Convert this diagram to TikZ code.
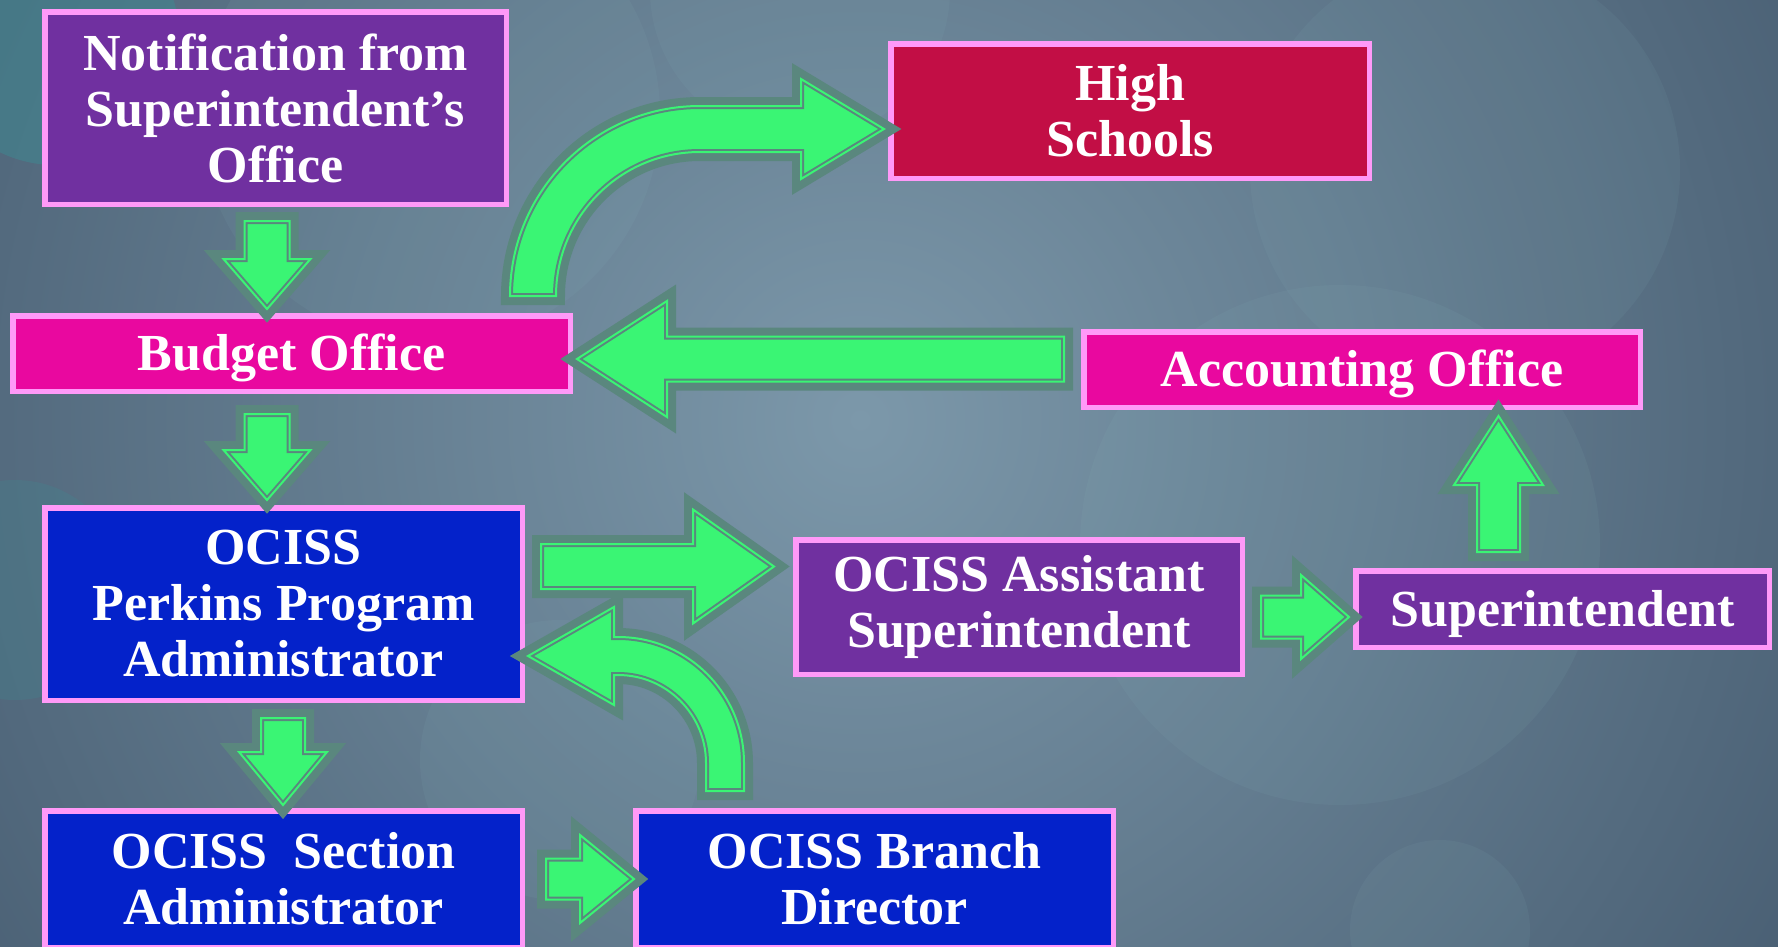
\documentclass[tikz,border=0pt]{standalone}
\usepackage{fontspec}
\setmainfont{Liberation Serif}
\usetikzlibrary{calc}

\definecolor{boxedge}{HTML}{FF99F8}
\definecolor{purplebox}{HTML}{7030A0}
\definecolor{crimsonbox}{HTML}{C20E45}
\definecolor{pinkbox}{HTML}{E9089F}
\definecolor{bluebox}{HTML}{0422CA}
\definecolor{arrowfill}{HTML}{3AF574}
\definecolor{arrowrim}{HTML}{5A877E}
\definecolor{bgmid}{HTML}{7C98AA}
\definecolor{bgdark}{HTML}{2A3C52}
\definecolor{bokehlight}{HTML}{8FBFC4}
\definecolor{bokehteal}{HTML}{3E8A92}

\tikzset{
  box/.style={draw=boxedge, line width=5.5pt, text=white, align=center, inner sep=0pt,
    font=\bfseries\fontsize{52}{56}\selectfont},
  oneline/.style={text height=44pt, text depth=10pt},
  bigarrow/.style={fill=arrowfill, draw=arrowrim, line width=2pt,
    double=arrowfill, double distance=2pt,
    preaction={draw=arrowrim, line width=18pt}},
  bokeh/.style={fill=#1, opacity=0.08},
}

% straight block arrow: tail, tip, half shaft, half head, head length
\newcommand{\flowarrow}[5]{%
  \path[bigarrow] let \p1=#1, \p2=#2,
      \n1={atan2(\y2-\y1,\x2-\x1)}, \n2={veclen(\x2-\x1,\y2-\y1)} in
    [shift={(\p1)}, rotate=\n1]
    (0,#3) -- (\n2-#5,#3) -- (\n2-#5,#4) -- (\n2,0)
    -- (\n2-#5,-#4) -- (\n2-#5,-#3) -- (0,-#3) -- cycle;}

\begin{document}
\begin{tikzpicture}[x=1pt,y=1pt]
  \useasboundingbox (0,0) rectangle (1778,-946);
  \clip (0,0) rectangle (1778,-946);

  % background
  \shade[inner color=bgmid, outer color=bgdark] (860,-420) circle (1750pt);
  \fill[bokehteal, opacity=0.5] (55,-40) circle (125pt);
  \fill[bokeh=bokehlight] (430,-115) circle (230pt);
  \fill[bokeh=bokehlight] (800,10) circle (150pt);
  \fill[bokeh=bokehlight] (1465,-170) circle (215pt);
  \fill[bokeh=bokehlight] (1340,-545) circle (260pt);
  \fill[bokehteal, opacity=0.25] (15,-590) circle (110pt);
  \fill[bokeh=bokehlight] (560,-760) circle (140pt);
  \fill[bokeh=bokehlight] (1440,-930) circle (90pt);

  % boxes
  \node[box, fill=purplebox, minimum width=461.5pt, minimum height=192.5pt]
    (notif) at (275.5,-108) {Notification from\\Superintendent’s\\Office};
  \node[box, fill=crimsonbox, minimum width=478.5pt, minimum height=134.5pt]
    (high) at (1130,-111) {High\\Schools};
  \node[box, oneline, fill=pinkbox, minimum width=557.5pt, minimum height=75.5pt]
    (budget) at (291.5,-353.5) {Budget Office};
  \node[box, oneline, fill=pinkbox, minimum width=556.5pt, minimum height=75.5pt]
    (accounting) at (1362,-369.5) {Accounting Office};
  \node[box, fill=bluebox, minimum width=477.5pt, minimum height=192.5pt]
    (perkins) at (283.5,-604) {OCISS\\Perkins Program\\Administrator};
  \node[box, fill=purplebox, minimum width=446.5pt, minimum height=134.5pt]
    (assist) at (1019,-607) {OCISS Assistant\\Superintendent};
  \node[box, oneline, fill=purplebox, minimum width=413.5pt, minimum height=76.5pt]
    (super) at (1562.5,-609) {Superintendent};
  \node[box, fill=bluebox, minimum width=477.5pt, minimum height=136.5pt]
    (section) at (283.5,-879) {OCISS~ Section\\Administrator};
  \node[box, fill=bluebox, minimum width=477.5pt, minimum height=136.5pt]
    (branch) at (874.5,-879) {OCISS Branch\\Director};

  % straight arrows
  \flowarrow{($(notif.south)+(-8.5,-14)$)}{($(budget.north)+(-24.5,4)$)}{22.5}{43.5}{50}
  \flowarrow{($(budget.south)+(-24.5,-20)$)}{($(perkins.north)+(-16.5,5)$)}{22.5}{43.5}{50}
  \flowarrow{($(perkins.south)+(-0.5,-15)$)}{($(section.north)+(-0.5,3)$)}{22}{44}{53}
  \flowarrow{($(section.east)+(21,0)$)}{($(branch.west)+(1,0)$)}{20.5}{44}{54}
  \flowarrow{($(perkins.east)+(16,37.5)$)}{($(assist.west)+(-19,40.5)$)}{22.5}{57}{81}
  \flowarrow{($(accounting.west)+(-17,10.5)$)}{($(budget.east)+(4,-5.5)$)}{22.5}{58}{90}
  \flowarrow{($(assist.east)+(16,-10)$)}{($(super.west)+(-4,-8)$)}{21.5}{42}{48}
  \flowarrow{($(super.north)+(-64,16)$)}{($(accounting.south)+(136.5,-6)$)}{21.5}{44.5}{69}

  % bent arrow up to the high schools
  \coordinate (baseA) at ($(budget.north)+(241.5,17)$);
  \coordinate (tipA) at ($(high.west)+(-4,-18)$);
  \path[bigarrow] ($(baseA)+(-23,0)$) arc[start angle=180, end angle=90, radius=190]
    -- ++(101,0) -- ++(0,27) -- (tipA) -- ++(-83,-50) -- ++(0,27) -- ++(-101,0)
    arc[start angle=90, end angle=180, radius=144] -- cycle;

  % bent arrow back to the program administrator
  \coordinate (baseB) at ($(branch.north)+(-149.5,17)$);
  \coordinate (tipB) at ($(perkins.east)+(3,-52)$);
  \path[bigarrow] ($(baseB)+(19,0)$) -- ++(0,28) arc[start angle=0, end angle=90, radius=126]
    -- ++(-4,0) -- ++(0,30) -- (tipB) -- ++(86,-49) -- ++(0,30) -- ++(4,0)
    arc[start angle=90, end angle=0, radius=88] -- ++(0,-28) -- cycle;
\end{tikzpicture}
\end{document}
